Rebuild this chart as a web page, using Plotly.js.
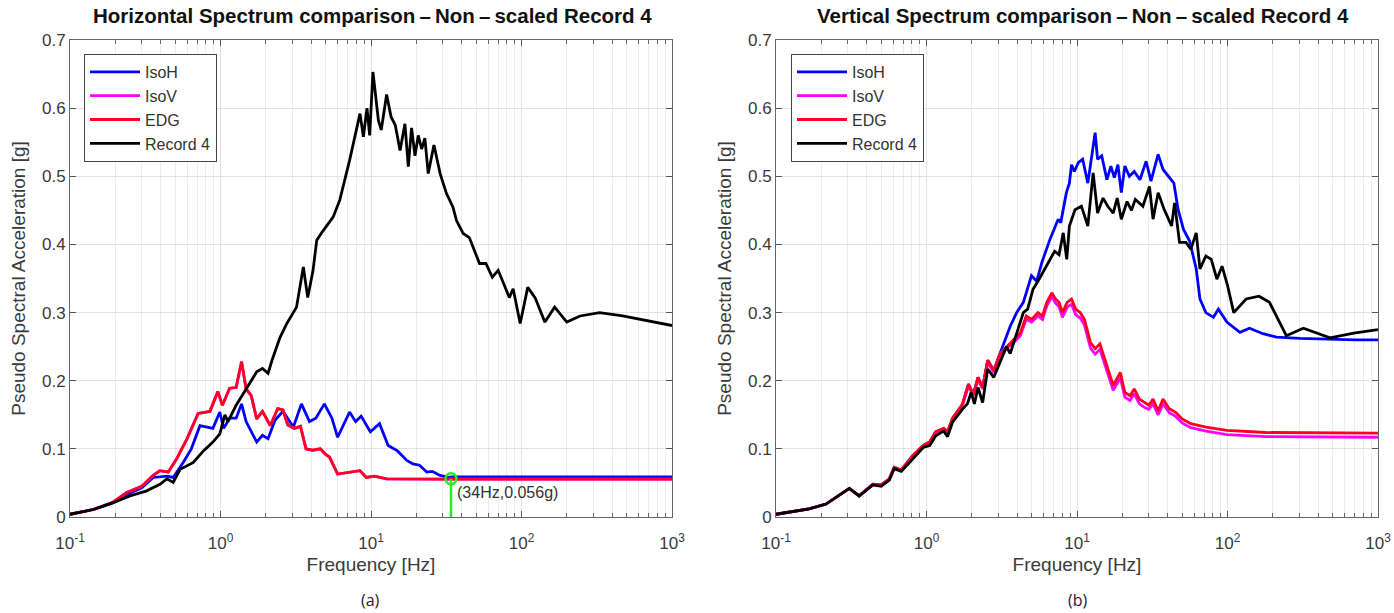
<!DOCTYPE html>
<html>
<head>
<meta charset="utf-8">
<script src="https://cdn.plot.ly/plotly-3.0.1.min.js"></script>
<style>html,body{margin:0;padding:0;background:#fff;}#chart{width:1394px;height:613px;}</style>
</head>
<body>
<div id="chart"></div>
<script>
// ---------- Data: (a) Horizontal spectrum ----------
const hIsoH_f = [0.1,0.143,0.194,0.238,0.3,0.357,0.44,0.485,0.565,0.64,0.73,0.89,0.99,1.05,1.15,1.27,1.38,1.48,1.74,1.9,2.07,2.3,2.6,2.88,3.05,3.45,3.9,4.3,4.9,5.5,6.0,7.2,7.9,8.6,9.9,11.4,13,15,17.3,19,21,23.5,25.5,28.8,33,34,100,1000];
const hIsoH_v = [0.004,0.011,0.021,0.033,0.043,0.058,0.06,0.058,0.08,0.10,0.134,0.13,0.154,0.13,0.145,0.145,0.166,0.14,0.11,0.12,0.115,0.142,0.155,0.14,0.132,0.166,0.14,0.145,0.166,0.145,0.117,0.154,0.14,0.148,0.125,0.137,0.105,0.097,0.083,0.078,0.076,0.066,0.067,0.061,0.058,0.059,0.059,0.059];

const hEDG_f = [0.1,0.143,0.194,0.238,0.3,0.357,0.396,0.45,0.51,0.6,0.71,0.85,0.96,1.03,1.15,1.27,1.38,1.48,1.6,1.74,1.9,2.14,2.4,2.6,2.8,3.1,3.4,3.7,4.1,4.6,5.0,5.3,6.0,7.2,8.45,9.3,10.5,12.7,19,30,100,1000];
const hEDG_v = [0.004,0.011,0.022,0.036,0.045,0.061,0.068,0.066,0.085,0.115,0.152,0.155,0.184,0.164,0.189,0.19,0.228,0.188,0.178,0.144,0.155,0.134,0.159,0.157,0.135,0.13,0.133,0.10,0.098,0.10,0.092,0.088,0.063,0.066,0.068,0.058,0.06,0.056,0.0555,0.0555,0.0555,0.0555];

const hIsoV_f = [0.1,0.143,0.194,0.238,0.3,0.357,0.396,0.45,0.51,0.6,0.71,0.85,0.96,1.03,1.15,1.27,1.38,1.48,1.6,1.74,1.9,2.14,2.4,2.6,2.8,3.1,3.4,3.7,4.1,4.6,5.0,5.3,6.0,7.2,8.45,9.3,10.5,12.7,19,30,100,1000];
const hIsoV_v = [0.004,0.011,0.022,0.036,0.045,0.061,0.068,0.066,0.085,0.115,0.152,0.155,0.184,0.164,0.189,0.19,0.228,0.188,0.178,0.144,0.155,0.134,0.159,0.157,0.135,0.13,0.133,0.10,0.098,0.10,0.092,0.088,0.063,0.066,0.068,0.058,0.06,0.056,0.0555,0.0555,0.0555,0.0555];

const hRec_f = [0.1,0.143,0.194,0.25,0.32,0.396,0.44,0.485,0.54,0.66,0.77,0.89,0.99,1.07,1.12,1.27,1.4,1.57,1.74,1.9,2.07,2.2,2.48,2.76,3.2,3.55,3.8,4.12,4.36,4.8,5.6,6.2,7.2,8.45,8.9,9.4,9.8,10.3,11.2,11.7,12.7,13.6,14.5,15.6,16.8,17.7,18.6,19.6,20.6,21.7,22.8,24.0,26.2,28.8,31.7,35,37,41,45,52.6,58,64,70,83,88,98,110,123,143,166,200,245,330,470,680,1000];
const hRec_v = [0.004,0.011,0.021,0.031,0.038,0.048,0.056,0.051,0.070,0.080,0.097,0.11,0.122,0.15,0.14,0.164,0.179,0.198,0.213,0.218,0.211,0.23,0.263,0.284,0.308,0.367,0.322,0.362,0.406,0.42,0.44,0.465,0.523,0.592,0.558,0.60,0.56,0.653,0.582,0.568,0.62,0.587,0.575,0.538,0.577,0.514,0.571,0.53,0.56,0.54,0.556,0.504,0.546,0.504,0.475,0.455,0.435,0.416,0.41,0.372,0.372,0.352,0.362,0.322,0.335,0.284,0.337,0.322,0.286,0.308,0.286,0.295,0.300,0.295,0.288,0.281];

const markF = [34, 34];
const markV = [0, 0.056];
const markLabel = "(34Hz,0.056g)";

// ---------- Data: (b) Vertical spectrum ----------
const vIsoH_f = [0.1,0.166,0.215,0.263,0.307,0.357,0.44,0.5,0.566,0.61,0.68,0.81,0.95,1.05,1.15,1.3,1.38,1.49,1.73,1.9,2.05,2.2,2.36,2.55,2.8,3.08,3.6,3.97,4.4,4.98,5.4,5.83,6.6,7.5,7.8,8.5,8.9,9.2,9.6,10.2,10.9,11.8,13.2,13.7,14.6,15.8,16.8,17.7,18.7,19.7,20.8,22.3,24,26.2,28.8,31,34.6,37.3,41,44,47,51,56,62,65.6,71.8,80.6,87,99,121,140,172,212,303,700,1000];
const vIsoH_v = [0.004,0.012,0.019,0.032,0.042,0.031,0.048,0.047,0.056,0.073,0.069,0.09,0.105,0.11,0.125,0.13,0.125,0.145,0.165,0.195,0.18,0.205,0.19,0.23,0.215,0.24,0.28,0.30,0.315,0.354,0.346,0.373,0.407,0.437,0.432,0.476,0.49,0.517,0.507,0.52,0.525,0.49,0.564,0.525,0.53,0.495,0.515,0.498,0.517,0.476,0.515,0.5,0.507,0.495,0.522,0.493,0.532,0.51,0.498,0.49,0.451,0.422,0.405,0.364,0.32,0.30,0.293,0.305,0.286,0.271,0.277,0.269,0.264,0.262,0.26,0.26];

const vEDG_f = [0.1,0.166,0.215,0.263,0.307,0.357,0.44,0.5,0.566,0.61,0.68,0.81,0.95,1.05,1.15,1.3,1.38,1.49,1.73,1.9,2.05,2.2,2.36,2.55,2.8,3.08,3.4,3.8,4.2,4.6,5.0,5.5,5.9,6.3,6.8,7.2,7.6,8,8.6,9.2,9.8,10.5,11.2,12.3,13.2,14.2,15.8,17.4,19.4,20.8,22.5,24,26,28,30,32,34.6,37.3,41,45,50,57,72,99,180,1000];
const vEDG_v = [0.004,0.012,0.019,0.032,0.042,0.031,0.048,0.047,0.056,0.073,0.069,0.09,0.105,0.11,0.125,0.13,0.125,0.145,0.165,0.195,0.18,0.205,0.19,0.23,0.215,0.24,0.25,0.26,0.27,0.295,0.29,0.30,0.295,0.315,0.329,0.32,0.315,0.30,0.315,0.32,0.305,0.30,0.29,0.256,0.247,0.254,0.222,0.193,0.212,0.183,0.178,0.188,0.173,0.168,0.164,0.173,0.156,0.173,0.159,0.154,0.144,0.137,0.132,0.127,0.124,0.123];

const vIsoV_f = [0.1,0.166,0.215,0.263,0.307,0.357,0.44,0.5,0.566,0.61,0.68,0.81,0.95,1.05,1.15,1.3,1.38,1.49,1.73,1.9,2.05,2.2,2.36,2.55,2.8,3.08,3.4,3.8,4.2,4.6,5.0,5.5,5.9,6.3,6.8,7.2,7.6,8,8.6,9.2,9.8,10.5,11.2,12.3,13.2,14.2,15.8,17.4,19.4,20.8,22.5,24,26,28,30,32,34.6,37.3,41,45,50,57,72,99,180,1000];
const vIsoV_v = [0.004,0.012,0.019,0.032,0.042,0.031,0.047,0.046,0.055,0.071,0.068,0.089,0.104,0.108,0.123,0.128,0.123,0.143,0.163,0.192,0.178,0.202,0.188,0.227,0.212,0.237,0.247,0.256,0.266,0.29,0.286,0.295,0.29,0.31,0.323,0.314,0.309,0.293,0.308,0.312,0.297,0.292,0.282,0.248,0.239,0.246,0.214,0.186,0.204,0.176,0.171,0.181,0.166,0.161,0.158,0.166,0.15,0.166,0.153,0.148,0.138,0.131,0.126,0.121,0.118,0.117];

const vRec_f = [0.1,0.166,0.215,0.263,0.307,0.357,0.44,0.5,0.566,0.61,0.68,0.81,0.95,1.05,1.15,1.3,1.38,1.49,1.73,1.87,1.98,2.08,2.2,2.36,2.55,2.8,3.08,3.4,3.6,3.97,4.4,4.7,5.1,5.6,6.6,7.1,7.6,8.1,8.55,8.9,9.7,10.7,11.8,12.8,13.7,14.9,16,17.4,18.5,19.7,21.5,23,24.4,27.4,30.3,32,34.6,38,42.5,44.5,48,53,57,62,65.6,71.8,78,85,92,100,110,133,162,190,246,319,480,690,1000];
const vRec_v = [0.004,0.012,0.019,0.032,0.042,0.031,0.047,0.045,0.054,0.071,0.067,0.085,0.102,0.105,0.119,0.126,0.118,0.139,0.158,0.166,0.183,0.166,0.19,0.168,0.217,0.205,0.227,0.25,0.24,0.27,0.30,0.305,0.334,0.349,0.378,0.39,0.385,0.417,0.378,0.427,0.451,0.456,0.427,0.505,0.446,0.468,0.456,0.446,0.468,0.437,0.463,0.45,0.466,0.456,0.485,0.437,0.476,0.451,0.427,0.461,0.403,0.403,0.393,0.417,0.364,0.383,0.378,0.349,0.368,0.34,0.30,0.32,0.324,0.315,0.266,0.277,0.263,0.27,0.275];

// ---------- Labels ----------
const seriesNames = ["IsoH", "IsoV", "EDG", "Record 4"];
const xTickVals = [0.1, 1, 10, 100, 1000];
const xTickText = ["10<sup>-1</sup>", "10<sup>0</sup>", "10<sup>1</sup>", "10<sup>2</sup>", "10<sup>3</sup>"];
const titleA = "Horizontal Spectrum comparison\u2009\u2013\u2009Non\u2009\u2013\u2009scaled Record 4";
const titleB = "Vertical Spectrum comparison\u2009\u2013\u2009Non\u2009\u2013\u2009scaled Record 4";
const xTitle = "Frequency [Hz]";
const yTitle = "Pseudo Spectral Acceleration [g]";

// ---------- Styling ----------
const colors = ["#0000ff", "#ff00ff", "#ff0022", "#000000"];
const LW = 2.8;
const minorVals = [];
for (let d = -1; d < 3; d++) for (let k = 2; k <= 9; k++) minorVals.push(k * Math.pow(10, d));

function series(f, v, i, xa, ya, lg) {
  return {x: f, y: v, type: "scatter", mode: "lines", name: seriesNames[i],
    line: {color: colors[i], width: LW}, xaxis: xa, yaxis: ya, legend: lg, hoverinfo: "skip"};
}

const data = [
  series(hIsoH_f, hIsoH_v, 0, "x", "y", "legend"),
  series(hIsoV_f, hIsoV_v, 1, "x", "y", "legend"),
  series(hEDG_f, hEDG_v, 2, "x", "y", "legend"),
  series(hRec_f, hRec_v, 3, "x", "y", "legend"),
  {x: markF, y: markV, type: "scatter", mode: "lines", line: {color: "#22ee22", width: 2.5},
   showlegend: false, xaxis: "x", yaxis: "y", hoverinfo: "skip"},
  {x: [markF[1]], y: [markV[1]], type: "scatter", mode: "markers",
   marker: {symbol: "circle-open", size: 11, color: "#22ee22", line: {width: 2.5, color: "#22ee22"}},
   showlegend: false, xaxis: "x", yaxis: "y", hoverinfo: "skip"},
  series(vIsoH_f, vIsoH_v, 0, "x2", "y2", "legend2"),
  series(vIsoV_f, vIsoV_v, 1, "x2", "y2", "legend2"),
  series(vEDG_f, vEDG_v, 2, "x2", "y2", "legend2"),
  series(vRec_f, vRec_v, 3, "x2", "y2", "legend2")
];

const FAM = "Liberation Sans, Arial, sans-serif";
const tickFont = {family: FAM, size: 17, color: "#3a3a3a"};
const titleFont = {family: FAM, size: 19, color: "#3a3a3a"};

function xAxis(dom, anchor) {
  return {domain: dom, anchor: anchor, type: "log", range: [-1, 3],
    tickmode: "array", tickvals: xTickVals, ticktext: xTickText,
    ticks: "inside", ticklen: 6, tickcolor: "#555", showline: true, linecolor: "#666", linewidth: 1,
    mirror: "ticks", showgrid: true, gridcolor: "#e2e2e2", gridwidth: 1, zeroline: false,
    minor: {tickmode: "array", tickvals: minorVals, ticks: "inside", ticklen: 4, tickcolor: "#666",
            showgrid: true, gridcolor: "#ececec", gridwidth: 1},
    tickfont: tickFont, ticklabelstandoff: 11,
    title: {text: xTitle, font: titleFont, standoff: 5}};
}
function yAxis(dom, anchor) {
  return {domain: dom, anchor: anchor, range: [0, 0.7], dtick: 0.1, tick0: 0,
    ticks: "inside", ticklen: 6, tickcolor: "#555", showline: true, linecolor: "#666", linewidth: 1,
    mirror: "ticks", showgrid: true, gridcolor: "#e2e2e2", zeroline: false,
    tickfont: tickFont,
    title: {text: yTitle, font: titleFont, standoff: 11}};
}

const yDom = [96 / 613, 573 / 613];
const legendStyle = {bgcolor: "#ffffff", bordercolor: "#444", borderwidth: 1,
  font: {family: FAM, size: 16, color: "#333"}, itemwidth: 50,
  xanchor: "left", yanchor: "top", tracegroupgap: 0};

const layout = {
  width: 1394, height: 613,
  margin: {l: 0, r: 0, t: 0, b: 0},
  paper_bgcolor: "#ffffff", plot_bgcolor: "#ffffff",
  showlegend: true,
  xaxis: xAxis([70 / 1394, 672 / 1394], "y"),
  yaxis: yAxis(yDom, "x"),
  xaxis2: xAxis([776 / 1394, 1378 / 1394], "y2"),
  yaxis2: yAxis(yDom, "x2"),
  legend: Object.assign({x: 84 / 1394, y: 1 - 54 / 613}, legendStyle),
  legend2: Object.assign({x: 791 / 1394, y: 1 - 54 / 613}, legendStyle),
  annotations: [
    {text: "<b>" + titleA + "</b>", xref: "paper", yref: "paper", x: 372 / 1394, y: 1 - 15 / 613,
     xanchor: "center", yanchor: "middle", showarrow: false, font: {family: FAM, size: 20.5, color: "#111"}},
    {text: "<b>" + titleB + "</b>", xref: "paper", yref: "paper", x: 1083 / 1394, y: 1 - 15 / 613,
     xanchor: "center", yanchor: "middle", showarrow: false, font: {family: FAM, size: 20.5, color: "#111"}},
    {text: markLabel, xref: "x", yref: "y", x: Math.log10(36), y: 0.036, xanchor: "left", yanchor: "middle",
     showarrow: false, font: {family: FAM, size: 16, color: "#333"}},
    {text: "(a)", xref: "paper", yref: "paper", x: 371 / 1394, y: 1 - 600 / 613,
     xanchor: "center", yanchor: "middle", showarrow: false, font: {family: "Open Sans, sans-serif", size: 16, color: "#222"}},
    {text: "(b)", xref: "paper", yref: "paper", x: 1078 / 1394, y: 1 - 600 / 613,
     xanchor: "center", yanchor: "middle", showarrow: false, font: {family: "Open Sans, sans-serif", size: 16, color: "#222"}}
  ]
};

Plotly.newPlot("chart", data, layout, {staticPlot: true, displayModeBar: false});
</script>
</body>
</html>
